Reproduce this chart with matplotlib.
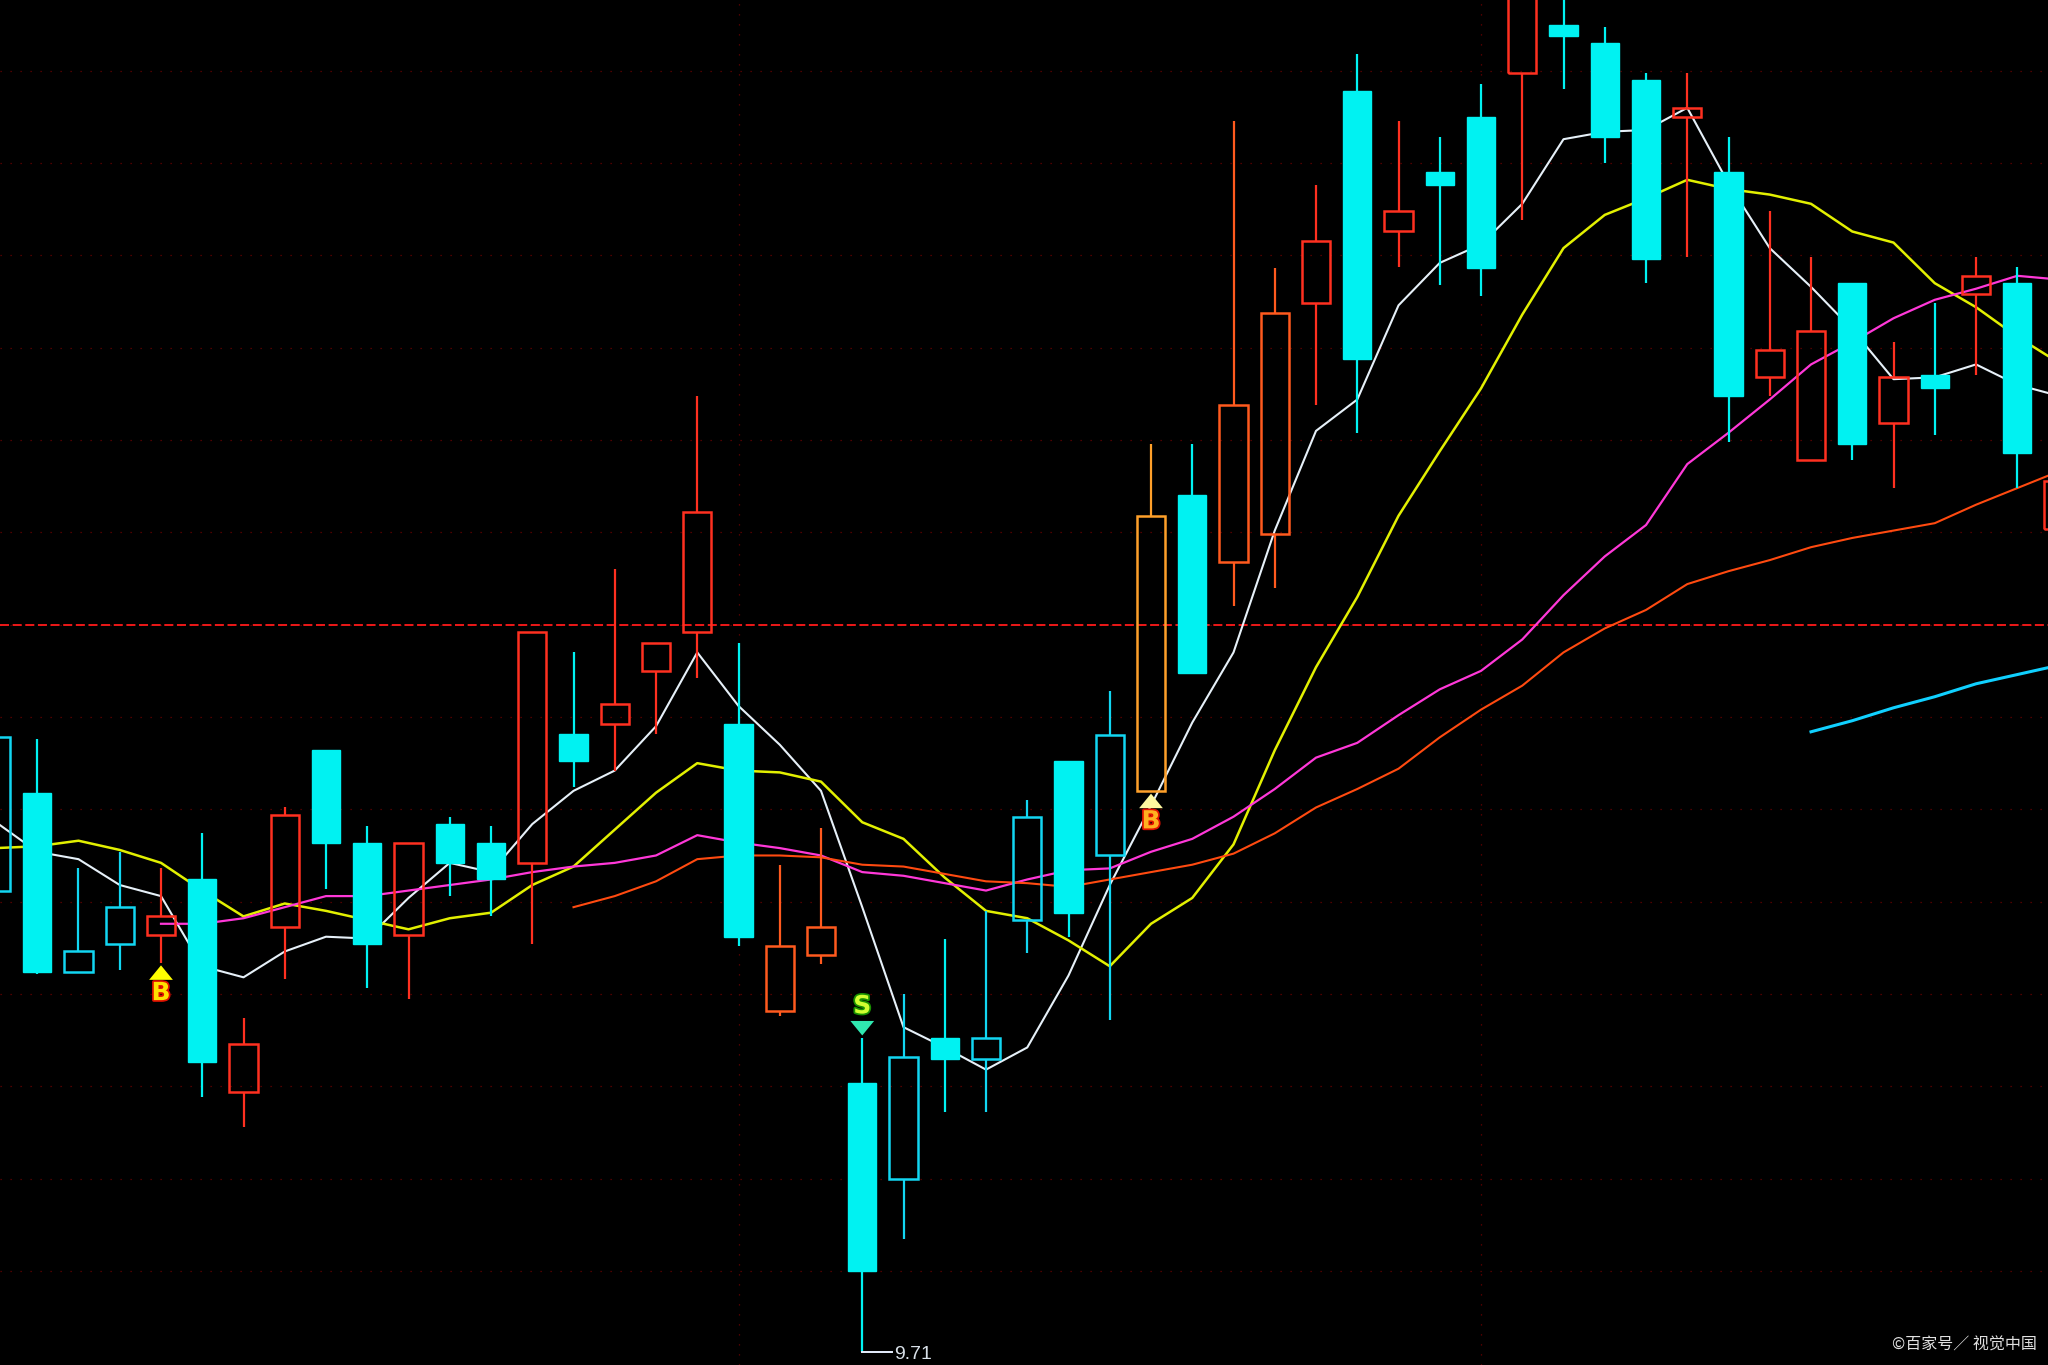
import numpy as np
import matplotlib.pyplot as plt
from matplotlib.patches import Rectangle
import matplotlib.patheffects as pe

# K线数据 (开, 高, 低, 收)
opens = [12.21, 12.74, 11.77, 11.92, 11.97, 12.27, 11.12, 12.01, 12.97, 12.47,
         11.97, 12.57, 12.47, 12.36, 13.06, 13.11, 13.40, 13.61, 13.11, 11.56,
         11.86, 11.17, 10.65, 11.41, 11.30, 12.05, 12.91, 12.40, 12.75, 14.35,
         13.99, 14.14, 15.39, 16.54, 15.78, 16.10, 16.40, 16.64, 16.90, 16.80,
         16.60, 16.40, 16.10, 14.99, 14.54, 15.50, 14.74, 15.00, 15.44, 15.50,
         14.17]
highs = [13.08, 13.03, 12.33, 12.42, 12.33, 12.52, 11.52, 12.66, 12.97, 12.56,
         12.47, 12.61, 12.56, 13.61, 13.50, 13.95, 13.55, 14.89, 13.55, 12.35,
         12.55, 11.41, 11.65, 11.95, 12.10, 12.70, 12.91, 13.29, 14.63, 14.63,
         16.38, 15.58, 16.03, 16.74, 16.38, 16.29, 16.58, 17.36, 17.14, 16.89,
         16.64, 16.64, 16.29, 15.89, 15.64, 15.50, 15.18, 15.39, 15.64, 15.59,
         14.49]
lows = [12.16, 11.76, 11.77, 11.78, 11.82, 11.09, 10.93, 11.73, 12.22, 11.68,
        11.62, 12.18, 12.07, 11.92, 12.77, 12.86, 13.06, 13.36, 11.91, 11.53,
        11.81, 9.71, 10.32, 11.01, 11.01, 11.87, 11.96, 11.51, 12.75, 13.39,
        13.75, 13.85, 14.84, 14.69, 15.59, 15.49, 15.43, 15.84, 16.55, 16.15,
        15.50, 15.64, 14.64, 14.89, 14.54, 14.54, 14.39, 14.68, 15.00, 14.39,
        14.11]
closes = [13.04, 11.77, 11.88, 12.12, 12.07, 11.28, 11.38, 12.62, 12.47, 11.92,
          12.47, 12.36, 12.27, 13.61, 12.91, 13.22, 13.55, 14.26, 11.96, 11.91,
          12.01, 10.15, 11.31, 11.30, 11.41, 12.61, 12.09, 13.05, 14.24, 13.39,
          14.84, 15.34, 15.73, 15.09, 15.89, 16.03, 15.58, 17.20, 16.84, 16.29,
          15.63, 16.45, 14.89, 15.14, 15.24, 14.63, 14.99, 14.93, 15.54, 14.58,
          14.43]
kinds = ("ch cf ch ch r cf r r cf cf r cf cf r cf r r r cf o "
         "o cf ch cf ch ch cf ch y cf o o r cf r cf cf r cf cf "
         "cf r cf r r cf r cf r cf r").split()

# 均线
ma5 = [12.58, 12.42, 12.38, 12.24, 12.18, 11.80, 11.74, 11.88, 11.96, 11.95,
       12.17, 12.36, 12.31, 12.57, 12.75, 12.86, 13.10, 13.50, 13.21, 13.00,
       12.75, 12.12, 11.47, 11.36, 11.24, 11.36, 11.75, 12.24, 12.67, 13.12,
       13.50, 14.16, 14.70, 14.87, 15.38, 15.61, 15.71, 15.93, 16.28, 16.32,
       16.33, 16.45, 16.04, 15.69, 15.48, 15.25, 14.98, 14.99, 15.06, 14.95,
       14.89]
ma10 = [12.44, 12.45, 12.48, 12.43, 12.36, 12.21, 12.07, 12.14, 12.10, 12.05,
        12.00, 12.06, 12.09, 12.24, 12.34, 12.54, 12.74, 12.90, 12.86, 12.85,
        12.80, 12.58, 12.49, 12.28, 12.10, 12.06, 11.94, 11.80, 12.03, 12.17,
        12.46, 12.97, 13.42, 13.80, 14.24, 14.59, 14.93, 15.33, 15.69, 15.87,
        15.96, 16.06, 16.01, 15.98, 15.93, 15.78, 15.72, 15.50, 15.37, 15.21,
        15.07]
ma20_start = 4
ma20 = [12.03, 12.03, 12.06, 12.12, 12.18, 12.18, 12.21, 12.24, 12.27, 12.31,
        12.34, 12.36, 12.40, 12.51, 12.47, 12.44, 12.40, 12.31, 12.29, 12.25,
        12.21, 12.27, 12.32, 12.33, 12.42, 12.49, 12.61, 12.76, 12.93, 13.01,
        13.16, 13.30, 13.40, 13.57, 13.81, 14.02, 14.19, 14.52, 14.69, 14.87,
        15.06, 15.18, 15.31, 15.41, 15.47, 15.54, 15.52]
ma30_start = 14
ma30 = [12.12, 12.18, 12.26, 12.38, 12.40, 12.40, 12.39, 12.35, 12.34, 12.30,
        12.26, 12.25, 12.23, 12.27, 12.31, 12.35, 12.41, 12.52, 12.66, 12.76,
        12.87, 13.04, 13.19, 13.32, 13.50, 13.63, 13.73, 13.87, 13.94, 14.00,
        14.07, 14.12, 14.16, 14.20, 14.30, 14.39, 14.48]
ma60_start = 44
ma60 = [13.07, 13.13, 13.20, 13.26, 13.33, 13.38, 13.43]

ref_price = 13.65
low_label = 9.71
buy_idx = [4, 28]
sell_idx = [21]

colors = {'r': '#ff3020', 'o': '#ff5a1e', 'y': '#ffa02a',
          'ch': '#12d6f2', 'cf': '#00f2f2'}

fig = plt.figure(figsize=(20.48, 13.65), dpi=100, facecolor='black')
ax = fig.add_axes([0, 0, 1, 1])
ax.set_facecolor('black')
ax.set_xlim(0.097, 49.745)
ax.set_ylim(9.64, 17.034)
ax.axis('off')

# 网格
for p in np.arange(10.15, 16.7, 0.5):
    ax.axhline(p, color='#6a0000', lw=0.9, ls=(0, (1, 7)), zorder=0)
for xv in [18, 36]:
    ax.axvline(xv, color='#6a0000', lw=0.9, ls=(0, (1, 7)), zorder=0)
ax.axhline(ref_price, color='#ff1a1a', lw=1.3, ls=(0, (5, 2)), zorder=1)

# 均线
ax.plot(np.arange(len(ma5)), ma5, color='#e6f0f8', lw=1.5, zorder=2)
ax.plot(np.arange(len(ma10)), ma10, color='#e2f000', lw=1.8, zorder=2)
ax.plot(np.arange(ma20_start, ma20_start + len(ma20)), ma20, color='#ff38d8', lw=1.6, zorder=2)
ax.plot(np.arange(ma30_start, ma30_start + len(ma30)), ma30, color='#ff4a10', lw=1.5, zorder=2)
ax.plot(np.arange(ma60_start, ma60_start + len(ma60)), ma60, color='#10d0ff', lw=2.2, zorder=2)

# K线
w = 0.68
for i, (o, h, l, c, k) in enumerate(zip(opens, highs, lows, closes, kinds)):
    top, bot = max(o, c), min(o, c)
    col = colors[k]
    if k == 'cf':
        ax.vlines(i, l, h, color=col, lw=1.6, zorder=3)
        ax.add_patch(Rectangle((i - w / 2, bot), w, top - bot, facecolor=col,
                               edgecolor=col, lw=1.0, zorder=4))
    else:
        ax.vlines(i, top, h, color=col, lw=1.6, zorder=3)
        ax.vlines(i, l, bot, color=col, lw=1.6, zorder=3)
        ax.add_patch(Rectangle((i - w / 2, bot), w, top - bot, facecolor='none',
                               edgecolor=col, lw=1.8, zorder=4))

# 买卖点标记
arrow_style = 'simple,head_width=0.9,head_length=0.55,tail_width=0.38'
b_cols = {4: ('#ffff00', '#ffe000'), 28: ('#fff8a0', '#ffb020')}
for i in buy_idx:
    acol, tcol = b_cols[i]
    ax.annotate('', xy=(i, lows[i]), xytext=(0, -12), textcoords='offset points',
                arrowprops=dict(arrowstyle=arrow_style, color=acol, mutation_scale=19, lw=0),
                zorder=6)
    ax.annotate('B', xy=(i, lows[i]), xytext=(0, -22), textcoords='offset points',
                ha='center', va='center', fontsize=18, fontweight='bold', color=tcol,
                path_effects=[pe.withStroke(linewidth=2.5, foreground='#e01000')], zorder=6)
for i in sell_idx:
    ax.annotate('', xy=(i, highs[i]), xytext=(0, 12), textcoords='offset points',
                arrowprops=dict(arrowstyle=arrow_style, color='#30e8b0', mutation_scale=19, lw=0),
                zorder=6)
    ax.annotate('S', xy=(i, highs[i]), xytext=(0, 23), textcoords='offset points',
                ha='center', va='center', fontsize=18, fontweight='bold', color='#d0ff30',
                path_effects=[pe.withStroke(linewidth=2.5, foreground='#189000')], zorder=6)

# 最低价标注
low_i = int(np.argmin(lows))
ax.plot([low_i, low_i + 0.73], [low_label, low_label], color='#e8f0ff', lw=1.4, zorder=5)
ax.text(low_i + 0.78, low_label, '9.71', color='#d8e0e8', fontsize=14,
        family='Liberation Sans', ha='left', va='center_baseline', zorder=5)

fig.text(0.9946, 0.0147, '©百家号／ 视觉中国', ha='right', va='center', color='#e0e0e0',
         fontsize=11.5, family=['Noto Sans CJK SC', 'DejaVu Sans'])

plt.savefig('out.png', dpi=100, facecolor='black')
